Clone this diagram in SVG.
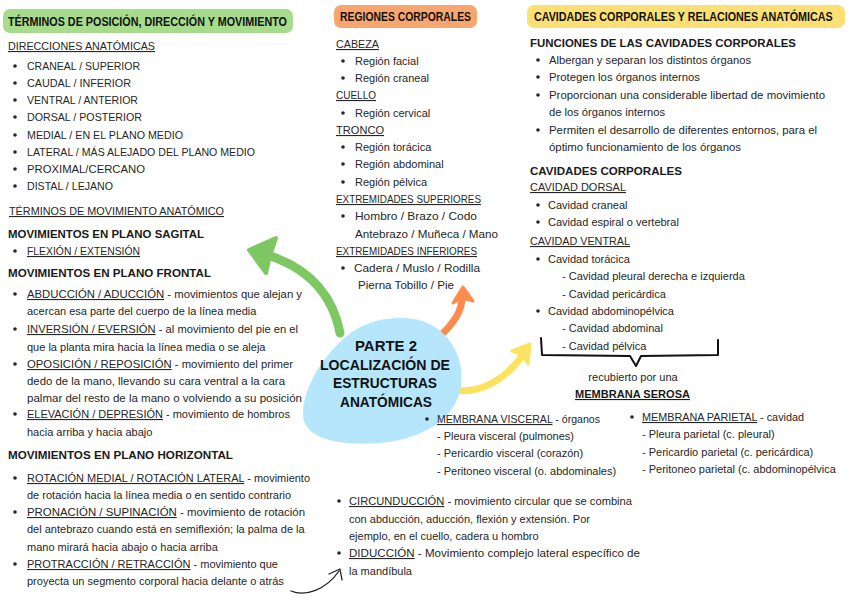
<svg xmlns="http://www.w3.org/2000/svg" width="848" height="600" viewBox="0 0 848 600">
<defs>
<style>
.t{font-family:"Liberation Sans",Arial,sans-serif;font-size:11px;fill:#262626}
.b{font-family:"Liberation Sans",Arial,sans-serif;font-size:11px;font-weight:bold;fill:#1a1a1a}
.h{font-family:"Liberation Sans",Arial,sans-serif;font-size:12px;font-weight:900;fill:#111}
.c{font-family:"Liberation Sans",Arial,sans-serif;font-size:14px;font-weight:900;fill:#111;text-anchor:middle}
.u{text-decoration:underline}
.d{fill:#262626}
.arr{fill:none;stroke-linecap:round;stroke-linejoin:round}
</style>
</defs>
<rect width="848" height="600" fill="#ffffff"/>

<g id="connectors">
<path class="arr" d="M 340 333 C 332 292, 305 266, 264 254" stroke="#7ec864" stroke-width="9"/>
<polygon points="249,250 276,238 270,256 266,273" fill="#7ec864" stroke="#7ec864" stroke-width="4" stroke-linejoin="round"/>
<path class="arr" d="M 440 336 C 452 325, 462 312, 462 298" stroke="#fb8c4d" stroke-width="7"/>
<polygon points="463,287 453,303 462,298 473,301" fill="#fb8c4d" stroke="#fb8c4d" stroke-width="3" stroke-linejoin="round"/>
<path class="arr" d="M 450 389 C 478 396, 505 380, 522 356" stroke="#fce35f" stroke-width="7"/>
<polygon points="530,344 512,351 523,355 528,364" fill="#fce35f" stroke="#fce35f" stroke-width="3" stroke-linejoin="round"/>
<path class="arr" d="M 291 591 C 305 597, 326 590, 339 571" stroke="#222" stroke-width="1.3"/>
<polyline class="arr" points="329,574 340,569 342,580" stroke="#222" stroke-width="1.3"/>
<path class="arr" d="M 541 338 L 542 355 L 630 356 L 636 366 L 641 356 L 718 355 L 718 340" stroke="#111" stroke-width="2"/>
</g>

<g id="node-centro">
<path d="M 400 318 C 440 316, 466 350, 461 386 C 456 420, 420 440, 380 443 C 340 446, 300 440, 303 410 C 306 380, 328 350, 352 332 C 368 321, 385 318, 400 318 Z" fill="#b5e6fb"/>
<text class="c" x="386" y="351" textLength="62" lengthAdjust="spacingAndGlyphs">PARTE 2</text>
<text class="c" x="385" y="370" textLength="130" lengthAdjust="spacingAndGlyphs">LOCALIZACIÓN DE</text>
<text class="c" x="385" y="388" textLength="104" lengthAdjust="spacingAndGlyphs">ESTRUCTURAS</text>
<text class="c" x="386" y="407" textLength="92" lengthAdjust="spacingAndGlyphs">ANATÓMICAS</text>
</g>

<g id="node-posicion">
<rect x="3" y="9" width="290" height="24" rx="7" fill="#a6dc8b"/>
<text class="h" x="8" y="26" textLength="279" lengthAdjust="spacingAndGlyphs">TÉRMINOS DE POSICIÓN, DIRECCIÓN Y MOVIMIENTO</text>
<text class="t" x="8" y="50" textLength="147" lengthAdjust="spacingAndGlyphs"><tspan class="u">DIRECCIONES ANATÓMICAS</tspan></text>
<circle class="d" cx="15" cy="66" r="1.8"/><text class="t" x="27" y="70" textLength="113" lengthAdjust="spacingAndGlyphs">CRANEAL / SUPERIOR</text>
<circle class="d" cx="15" cy="83" r="1.8"/><text class="t" x="27" y="87" textLength="104" lengthAdjust="spacingAndGlyphs">CAUDAL / INFERIOR</text>
<circle class="d" cx="15" cy="100" r="1.8"/><text class="t" x="27" y="104" textLength="111" lengthAdjust="spacingAndGlyphs">VENTRAL / ANTERIOR</text>
<circle class="d" cx="15" cy="117" r="1.8"/><text class="t" x="27" y="121" textLength="115" lengthAdjust="spacingAndGlyphs">DORSAL / POSTERIOR</text>
<circle class="d" cx="15" cy="135" r="1.8"/><text class="t" x="27" y="139" textLength="156" lengthAdjust="spacingAndGlyphs">MEDIAL / EN EL PLANO MEDIO</text>
<circle class="d" cx="15" cy="152" r="1.8"/><text class="t" x="27" y="156" textLength="228" lengthAdjust="spacingAndGlyphs">LATERAL / MÁS ALEJADO DEL PLANO MEDIO</text>
<circle class="d" cx="15" cy="169" r="1.8"/><text class="t" x="27" y="173" textLength="118" lengthAdjust="spacingAndGlyphs">PROXIMAL/CERCANO</text>
<circle class="d" cx="15" cy="186" r="1.8"/><text class="t" x="27" y="190" textLength="86" lengthAdjust="spacingAndGlyphs">DISTAL / LEJANO</text>
</g>

<g id="node-movimiento">
<text class="t" x="9" y="215" textLength="215" lengthAdjust="spacingAndGlyphs"><tspan class="u">TÉRMINOS DE MOVIMIENTO ANATÓMICO</tspan></text>
<text class="b" x="8" y="238" textLength="196" lengthAdjust="spacingAndGlyphs">MOVIMIENTOS EN PLANO SAGITAL</text>
<circle class="d" cx="15" cy="251" r="1.8"/><text class="t" x="27" y="255" textLength="113" lengthAdjust="spacingAndGlyphs"><tspan class="u">FLEXIÓN / EXTENSIÓN</tspan></text>
<text class="b" x="8" y="277" textLength="203" lengthAdjust="spacingAndGlyphs">MOVIMIENTOS EN PLANO FRONTAL</text>
<circle class="d" cx="15" cy="294" r="1.8"/><text class="t" x="27" y="298" textLength="275" lengthAdjust="spacingAndGlyphs"><tspan class="u">ABDUCCIÓN / ADUCCIÓN</tspan> - movimientos que alejan y</text>
<text class="t" x="27" y="315">acercan esa parte del cuerpo de la línea media</text>
<circle class="d" cx="15" cy="329" r="1.8"/><text class="t" x="27" y="333" textLength="271" lengthAdjust="spacingAndGlyphs"><tspan class="u">INVERSIÓN / EVERSIÓN</tspan> - al movimiento del pie en el</text>
<text class="t" x="27" y="351">que la planta mira hacia la línea media o se aleja</text>
<circle class="d" cx="15" cy="364" r="1.8"/><text class="t" x="27" y="368" textLength="266" lengthAdjust="spacingAndGlyphs"><tspan class="u">OPOSICIÓN / REPOSICIÓN</tspan> - movimiento del primer</text>
<text class="t" x="27" y="385" textLength="258" lengthAdjust="spacingAndGlyphs">dedo de la mano, llevando su cara ventral a la cara</text>
<text class="t" x="27" y="402" textLength="275" lengthAdjust="spacingAndGlyphs">palmar del resto de la mano o volviendo a su posición</text>
<circle class="d" cx="15" cy="414" r="1.8"/><text class="t" x="27" y="418" textLength="263" lengthAdjust="spacingAndGlyphs"><tspan class="u">ELEVACIÓN / DEPRESIÓN</tspan> - movimiento de hombros</text>
<text class="t" x="27" y="436">hacia arriba y hacia abajo</text>
<text class="b" x="8" y="459" textLength="225" lengthAdjust="spacingAndGlyphs">MOVIMIENTOS EN PLANO HORIZONTAL</text>
<circle class="d" cx="15" cy="478" r="1.8"/><text class="t" x="27" y="482" textLength="283" lengthAdjust="spacingAndGlyphs"><tspan class="u">ROTACIÓN MEDIAL / ROTACIÓN LATERAL</tspan> - movimiento</text>
<text class="t" x="27" y="499">de rotación hacia la línea media o en sentido contrario</text>
<circle class="d" cx="15" cy="512" r="1.8"/><text class="t" x="27" y="516" textLength="278" lengthAdjust="spacingAndGlyphs"><tspan class="u">PRONACIÓN / SUPINACIÓN</tspan> -  movimiento de rotación</text>
<text class="t" x="27" y="533">del antebrazo cuando está en semiflexión; la palma de la</text>
<text class="t" x="27" y="551">mano mirará hacia abajo o hacia arriba</text>
<circle class="d" cx="15" cy="564" r="1.8"/><text class="t" x="27" y="568" textLength="251" lengthAdjust="spacingAndGlyphs"><tspan class="u">PROTRACCIÓN / RETRACCIÓN</tspan> - movimiento que</text>
<text class="t" x="27" y="585">proyecta un segmento corporal hacia delante o atrás</text>
</g>

<g id="node-regiones">
<rect x="334" y="5" width="143" height="23" rx="7" fill="#f9a56e"/>
<text class="h" x="340" y="21" textLength="131" lengthAdjust="spacingAndGlyphs">REGIONES CORPORALES</text>
<text class="t" x="336" y="48" textLength="43" lengthAdjust="spacingAndGlyphs"><tspan class="u">CABEZA</tspan></text>
<circle class="d" cx="343" cy="61" r="1.8"/><text class="t" x="355" y="65">Región facial</text>
<circle class="d" cx="343" cy="78" r="1.8"/><text class="t" x="355" y="82">Región craneal</text>
<text class="t" x="336" y="99" textLength="40" lengthAdjust="spacingAndGlyphs"><tspan class="u">CUELLO</tspan></text>
<circle class="d" cx="343" cy="113" r="1.8"/><text class="t" x="355" y="117">Región cervical</text>
<text class="t" x="336" y="134" textLength="48" lengthAdjust="spacingAndGlyphs"><tspan class="u">TRONCO</tspan></text>
<circle class="d" cx="343" cy="147" r="1.8"/><text class="t" x="355" y="151">Región torácica</text>
<circle class="d" cx="343" cy="164" r="1.8"/><text class="t" x="355" y="168">Región abdominal</text>
<circle class="d" cx="343" cy="182" r="1.8"/><text class="t" x="355" y="186">Región pélvica</text>
<text class="t" x="336" y="203" textLength="145" lengthAdjust="spacingAndGlyphs"><tspan class="u">EXTREMIDADES SUPERIORES</tspan></text>
<circle class="d" cx="343" cy="216" r="1.8"/><text class="t" x="355" y="220" textLength="122" lengthAdjust="spacingAndGlyphs">Hombro / Brazo / Codo</text>
<text class="t" x="355" y="238" textLength="143" lengthAdjust="spacingAndGlyphs">Antebrazo / Muñeca / Mano</text>
<text class="t" x="336" y="255" textLength="141" lengthAdjust="spacingAndGlyphs"><tspan class="u">EXTREMIDADES INFERIORES</tspan></text>
<circle class="d" cx="343" cy="268" r="1.8"/><text class="t" x="354" y="272" textLength="126" lengthAdjust="spacingAndGlyphs">Cadera / Muslo / Rodilla</text>
<text class="t" x="358" y="289" textLength="96" lengthAdjust="spacingAndGlyphs">Pierna Tobillo / Pie</text>
</g>

<g id="node-cavidades">
<rect x="527" y="5" width="318" height="23" rx="7" fill="#fde073"/>
<text class="h" transform="translate(534 21) scale(0.895 1)" x="0" y="0">CAVIDADES CORPORALES Y RELACIONES ANATÓMICAS</text>
<text class="b" x="530" y="47" textLength="266" lengthAdjust="spacingAndGlyphs">FUNCIONES DE LAS CAVIDADES CORPORALES</text>
<circle class="d" cx="538" cy="60" r="1.8"/><text class="t" x="549" y="64" textLength="202" lengthAdjust="spacingAndGlyphs">Albergan y separan los distintos órganos</text>
<circle class="d" cx="538" cy="77" r="1.8"/><text class="t" x="549" y="81" textLength="151" lengthAdjust="spacingAndGlyphs">Protegen los órganos internos</text>
<circle class="d" cx="538" cy="95" r="1.8"/><text class="t" x="549" y="99" textLength="276" lengthAdjust="spacingAndGlyphs">Proporcionan una considerable libertad de movimiento</text>
<text class="t" x="549" y="116" textLength="116" lengthAdjust="spacingAndGlyphs">de los órganos internos</text>
<circle class="d" cx="538" cy="130" r="1.8"/><text class="t" x="549" y="134" textLength="268" lengthAdjust="spacingAndGlyphs">Permiten el desarrollo de diferentes entornos, para el</text>
<text class="t" x="549" y="151" textLength="192" lengthAdjust="spacingAndGlyphs">óptimo funcionamiento de los órganos</text>
<text class="b" x="530" y="175" textLength="152" lengthAdjust="spacingAndGlyphs">CAVIDADES CORPORALES</text>
<text class="t" x="530" y="191" textLength="96" lengthAdjust="spacingAndGlyphs"><tspan class="u">CAVIDAD DORSAL</tspan></text>
<circle class="d" cx="538" cy="205" r="1.8"/><text class="t" x="548" y="209">Cavidad craneal</text>
<circle class="d" cx="538" cy="222" r="1.8"/><text class="t" x="548" y="226">Cavidad espiral o vertebral</text>
<text class="t" x="530" y="245" textLength="100" lengthAdjust="spacingAndGlyphs"><tspan class="u">CAVIDAD VENTRAL</tspan></text>
<circle class="d" cx="538" cy="259" r="1.8"/><text class="t" x="548" y="263">Cavidad torácica</text>
<text class="t" x="562" y="280">- Cavidad pleural derecha e izquierda</text>
<text class="t" x="562" y="298">- Cavidad pericárdica</text>
<circle class="d" cx="538" cy="311" r="1.8"/><text class="t" x="548" y="315">Cavidad abdominopélvica</text>
<text class="t" x="562" y="332">- Cavidad abdominal</text>
<text class="t" x="562" y="350">- Cavidad pélvica</text>
<text class="t" x="633" y="381" text-anchor="middle">recubierto por una</text>
<text class="b" x="575" y="398" textLength="115" lengthAdjust="spacingAndGlyphs"><tspan class="u">MEMBRANA SEROSA</tspan></text>
</g>

<g id="node-visceral">
<circle class="d" cx="427" cy="419" r="1.8"/><text class="t" x="437" y="423" textLength="163" lengthAdjust="spacingAndGlyphs"><tspan class="u">MEMBRANA VISCERAL</tspan> - órganos</text>
<text class="t" x="437" y="440">- Pleura visceral (pulmones)</text>
<text class="t" x="437" y="457">- Pericardio visceral (corazón)</text>
<text class="t" x="437" y="475">- Peritoneo visceral (o. abdominales)</text>
</g>

<g id="node-parietal">
<circle class="d" cx="632" cy="417" r="1.8"/><text class="t" x="642" y="421" textLength="162" lengthAdjust="spacingAndGlyphs"><tspan class="u">MEMBRANA PARIETAL</tspan> - cavidad</text>
<text class="t" x="642" y="438">- Pleura parietal (c. pleural)</text>
<text class="t" x="642" y="456">- Pericardio parietal (c. pericárdica)</text>
<text class="t" x="642" y="473">- Peritoneo parietal (c. abdominopélvica</text>
</g>

<g id="node-circunduccion">
<circle class="d" cx="339" cy="501" r="1.8"/><text class="t" x="349" y="505" textLength="283" lengthAdjust="spacingAndGlyphs"><tspan class="u">CIRCUNDUCCIÓN</tspan> - movimiento circular que se combina</text>
<text class="t" x="349" y="523">con abducción, aducción, flexión y extensión. Por</text>
<text class="t" x="349" y="540">ejemplo, en el cuello, cadera u hombro</text>
<circle class="d" cx="339" cy="553" r="1.8"/><text class="t" x="349" y="557" textLength="291" lengthAdjust="spacingAndGlyphs"><tspan class="u">DIDUCCIÓN</tspan> -  Movimiento complejo lateral específico de</text>
<text class="t" x="349" y="575">la mandíbula</text>
</g>
</svg>
